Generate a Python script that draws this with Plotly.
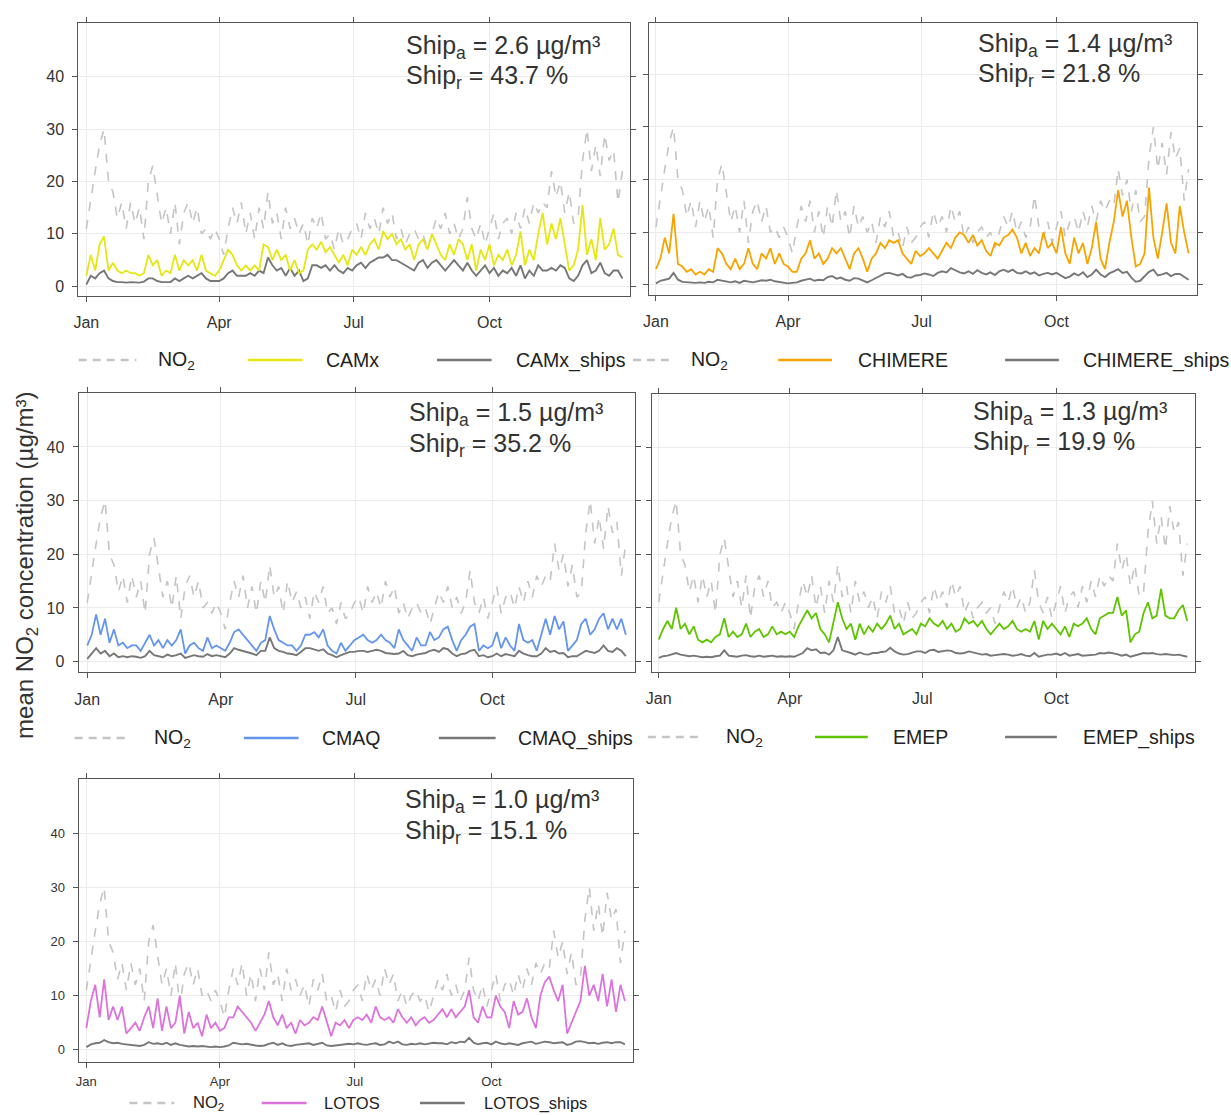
import pandas as pd
import plotly.graph_objects as go

# ---------------------------------------------------------------------------
# Data: 3-day mean NO2 (observed) and modelled totals / ship contributions
# ---------------------------------------------------------------------------
dates = pd.date_range("2015-01-01", periods=122, freq="3D")

no2 = [11, 17, 22, 27, 30, 20, 18, 13, 16, 11,
       16, 12, 15, 9, 20, 23, 17, 12, 15, 10,
       16, 8, 14, 16, 12, 15, 10, 11, 9, 11,
       9, 6, 11, 15, 12, 16, 10, 14, 9, 15,
       11, 18, 12, 14, 9, 15, 11, 13, 10, 12,
       8, 13, 11, 14, 9, 10, 7, 11, 8, 9,
       11, 12, 9, 14, 11, 13, 10, 15, 12, 14,
       9, 11, 8, 10, 11, 9, 10, 7, 10, 13,
       11, 14, 10, 12, 9, 11, 17, 11, 9, 12,
       8, 11, 14, 9, 12, 13, 10, 14, 11, 15,
       12, 16, 14, 16, 15, 22, 17, 20, 14, 18,
       12, 13, 24, 30, 22, 27, 21, 29, 24, 26,
       16, 22]

camx = [2, 6, 3, 8, 9.5, 3, 4.5, 3, 2.5, 3,
        2.5, 2.5, 2, 2.5, 6, 4, 5, 2, 3, 2.5,
        6, 3, 5, 4, 5, 3, 6, 3, 2.5, 2,
        3, 5, 7, 6, 4, 3, 4, 3, 4, 3,
        8, 7.5, 5, 7, 5, 6, 3, 5, 2.5, 3,
        7, 8, 7, 8.5, 6.5, 7.5, 6, 4.5, 6, 4,
        7, 6, 7.5, 6, 8, 9, 7, 10.5, 9, 10,
        8, 9, 7, 8, 5, 8, 9, 7, 10, 8,
        6, 5, 8, 6, 9, 8, 5, 8, 3, 7,
        5, 8, 4, 6, 5, 7, 4, 6, 10.5, 4,
        7, 5, 10, 14, 8, 12, 9, 13, 8, 3,
        4, 7, 15.5, 6, 9, 5, 13, 7, 8, 11,
        6, 5.5]
camx_ships = [0.3, 2, 1.5, 2.5, 3, 1.5, 1, 0.8, 0.8, 0.7,
              0.8, 0.8, 0.7, 0.9, 1.5, 1.5, 1, 0.8, 0.8, 0.8,
              1.5, 1, 1.5, 2, 1.5, 2, 2.5, 1.5, 1, 1,
              1, 1.5, 2.5, 3, 2, 2, 2, 2.5, 2, 3,
              2.5, 5.5, 4, 3, 3.5, 2, 3.5, 2, 3, 1,
              1.5, 4, 4, 3.5, 4, 3, 4, 3, 2.5, 3.5,
              3, 4, 4.5, 3.5, 4.5, 5, 5.5, 5.5, 6, 5,
              5, 4.5, 4, 3.5, 3, 4.5, 5, 3.5, 4.5, 5,
              4, 3, 4, 5, 4, 3, 4.5, 3, 2, 3,
              4, 2.5, 3.5, 2, 3, 2.5, 3.5, 2, 4, 1.5,
              3, 2, 4, 3, 3, 3.5, 3, 4, 3.5, 1.5,
              1, 2, 4, 5, 2.5, 3, 4.5, 2.5, 2, 3,
              3, 1.5]

chimere = [3, 5, 9, 6, 13.5, 4, 3.5, 2.5, 3, 2,
           2.5, 2, 3, 2.5, 7, 6, 4, 3, 5, 3,
           4, 7, 4, 3, 6, 5, 7, 4, 6, 4,
           3.5, 2.5, 2.5, 5, 6, 8.5, 5, 6, 4, 5,
           7, 6, 7, 5, 3, 6, 7, 5, 2.5, 5,
           6, 8, 7, 8.5, 8, 8.5, 6, 5, 4, 6.5,
           5.5, 6, 7, 6, 5, 6.5, 8, 7, 9, 10,
           9.5, 8, 9.5, 7.5, 8.5, 6.5, 5.5, 8, 7.5, 9,
           9.5, 10.5, 9, 6, 8, 5.5, 7, 6, 10, 7,
           8, 6, 11, 6, 4, 9, 6, 8, 4, 7,
           12, 5, 3, 8, 12, 18, 13, 16, 9, 3.5,
           4, 6, 18.5, 9, 5, 10, 15.5, 8, 6, 15,
           10, 6]
chimere_ships = [0.3, 0.8, 1, 1.2, 2.3, 1, 0.6, 0.5, 0.5, 0.4,
                 0.5, 0.4, 0.6, 0.5, 1, 0.8, 0.6, 0.5, 0.7, 0.4,
                 0.8, 0.6, 0.5, 0.7, 0.9, 0.8, 1, 0.7, 0.6, 0.4,
                 0.3, 0.4, 0.5, 0.8, 1, 1.2, 0.8, 1, 0.9, 1.5,
                 1.7, 1.2, 1.4, 1, 0.8, 1.3, 1.2, 0.8, 0.5, 0.9,
                 1.3, 1.8, 2.2, 2.3, 2, 1.8, 2.1, 1.5, 1.4, 1.8,
                 1.9, 2.2, 2, 1.7, 2.3, 2.6, 2.4, 3.2, 2.8, 2.4,
                 2.2, 2.6, 2.1, 2.8, 2.3, 2, 2.4, 1.9, 2.6, 2.9,
                 2.5, 2.9, 2.3, 2.2, 2.6, 2.1, 2.4, 1.8, 2.1, 2.3,
                 2, 2.3, 1.8, 1.3, 1.6, 2.2, 1.8, 2.4, 1.5, 2,
                 2.9, 2, 1.5, 2.2, 2.6, 3, 2.3, 2.5, 1.4, 0.6,
                 0.8, 1.6, 2.5, 2.9, 1.8, 2, 2.3, 1.7, 2.1, 2.1,
                 1.6, 1]

cmaq = [3, 5, 8.8, 5, 8, 3.5, 6, 3, 3.5, 2.5,
        3, 3, 2, 3.5, 5, 3, 4, 2.5, 4, 3,
        4, 6, 1.5, 3, 3.5, 2.5, 2, 4.5, 2.5, 3,
        2.5, 2, 3.5, 5.5, 6, 5, 4, 3, 2, 3.5,
        4, 8.5, 6, 4, 3.5, 3, 3, 2, 3, 5,
        5, 5.5, 4.5, 6, 3, 2, 1.5, 3.5, 2, 3,
        4, 4.5, 5, 4, 3.5, 4, 5, 4, 3.5, 2.5,
        6, 4, 3, 2, 4.5, 3, 3, 5.5, 4, 4.5,
        6, 6.5, 4, 2, 4, 5, 6.5, 7, 2, 3,
        2.5, 3, 5.5, 2.5, 4.5, 3, 2, 7, 4, 3.5,
        4, 2, 5, 8, 5, 8.5, 6, 7.5, 2, 3,
        4, 7, 8, 5, 6, 8, 9, 6, 8, 6,
        8, 5]
cmaq_ships = [0.5, 1.5, 2.5, 1.5, 2, 1, 1.5, 0.8, 1, 0.8,
              1, 0.9, 0.7, 1, 2, 1.2, 1, 0.8, 1.3, 1,
              1.2, 1.5, 0.7, 1, 1.2, 1, 0.9, 1.4, 1, 1.2,
              1, 0.8, 1.5, 2.5, 2.2, 2, 1.8, 1.5, 1.2, 2,
              2, 4.5, 2.5, 2, 1.8, 1.5, 1.4, 1.2, 1.8, 2.5,
              2.5, 2.2, 2, 2.3, 1.5, 1.2, 0.8, 1.2, 1.5, 1.8,
              1.8, 2, 2, 1.8, 2, 2.2, 2, 1.6, 1.5, 1.4,
              1.5, 2, 1.2, 1, 1.3, 1.5, 1.6, 2, 2.2, 1.8,
              2.5, 2.3, 1.5, 1, 1.4, 1.5, 2, 2.2, 1, 1.2,
              0.8, 1, 1.5, 1, 1.4, 1.2, 1, 2, 1.5, 1.2,
              1, 1, 1.5, 2.5, 1.8, 2, 1.5, 1.6, 0.8, 1,
              1, 1.5, 2, 1.8, 1.6, 2, 3, 2, 1.8, 2.5,
              2, 1]

emep = [4, 6, 7.5, 6, 10, 6, 7, 5, 6.5, 4,
        3.5, 4, 3.5, 4.5, 5, 8, 4.5, 5.5, 4.5, 5,
        7, 4.5, 5.5, 6, 4.5, 5, 6.5, 5, 5.5, 5,
        5.5, 4.5, 6.5, 8, 9.5, 8, 9, 6, 5, 3.5,
        7, 11, 8, 6, 7, 4, 7, 5, 6.5, 5.5,
        7, 6, 7, 8.5, 6, 7, 5, 5.5, 6, 5,
        7, 6.5, 8, 7, 6.5, 7.5, 6, 7, 5.5, 6,
        8, 7, 7.5, 6.5, 7.5, 6, 5, 6, 7, 6,
        6.5, 7.5, 6, 5.5, 6, 5.5, 7.5, 4, 7.5, 6,
        7, 6, 5, 6.5, 4.5, 7, 6.5, 7, 8, 6,
        5, 8, 8.5, 9, 9, 12, 8.5, 9.5, 3.5, 5,
        5.5, 9, 11, 8, 8.5, 13.5, 8.5, 8, 8, 9.5,
        10.5, 7.5]
emep_ships = [0.6, 0.9, 1, 1.2, 1.5, 1.2, 1, 0.9, 1, 0.8,
              0.7, 0.8, 0.7, 0.9, 1, 2, 1, 0.9, 0.8, 1,
              1.1, 0.9, 0.8, 1, 0.8, 0.9, 1, 0.8, 0.9, 0.8,
              0.9, 0.8, 1.2, 1.5, 2.4, 2, 2.2, 1.5, 1.6, 1.2,
              2, 4.5, 2, 1.8, 1.5, 1.2, 1.6, 1.3, 1.2, 1.5,
              1.5, 1.7, 1.8, 2.5, 1.8, 1.4, 1.2, 1.3, 1.5, 1.8,
              1.8, 1.5, 2, 2.1, 1.7, 1.8, 2, 1.9, 1.5, 1.4,
              1.5, 1.8, 1.6, 1.5, 1.2, 1.3, 1, 1.1, 1.2, 1.3,
              1.2, 1, 1.1, 1.3, 1, 0.9, 1.5, 0.8, 1, 1.2,
              1.2, 1.4, 1.1, 1.5, 1, 1.2, 1.3, 1, 1.1, 1.2,
              1.2, 1.5, 1.4, 1.6, 1.5, 1.3, 1, 1.2, 0.8, 1,
              1.3, 1.5, 1.4, 1.5, 1.3, 1.2, 1.3, 1.2, 1.1, 1.2,
              1, 0.8]

lotos = [4, 9, 12, 6, 13, 5.5, 8, 5.5, 8, 3,
         4, 5, 3.5, 6, 8, 4, 9.5, 3.5, 8, 4,
         5, 10, 3, 7, 4, 5, 2.5, 6.5, 4, 5,
         3.5, 4, 6, 6, 8, 7, 6, 5, 3.5, 5,
         6.5, 9, 6, 4.5, 6.5, 4, 5, 3, 5.5, 4.5,
         5, 6, 5.5, 8, 5, 2.5, 5, 4.5, 5.5, 4,
         5.5, 6, 5.5, 6.5, 5, 8, 6, 5.5, 6, 5,
         7.5, 6, 5, 6, 4.5, 5.5, 6, 5, 5.5, 6.5,
         7.5, 6, 7.5, 6, 7, 8, 11, 6, 5, 8,
         6, 6, 10, 8, 7, 4, 9, 6.5, 7, 9.5,
         6, 4, 10, 12.5, 13.5, 11, 9, 12, 3, 5,
         7, 9, 15.5, 10, 12, 9, 14, 8, 13, 7,
         12, 9]
lotos_ships = [0.5, 1, 1.2, 1.3, 1.8, 1.4, 1.2, 1.3, 1.1, 1,
               1, 0.8, 0.7, 0.9, 1.4, 1.1, 1.2, 1, 1.3, 0.9,
               1.2, 0.9, 0.8, 0.6, 0.7, 0.6, 0.7, 0.6, 0.5, 0.6,
               0.5, 0.6, 0.8, 1.3, 1.2, 1, 1.1, 0.9, 0.8, 0.7,
               0.8, 1.1, 1.3, 0.9, 1.2, 0.8, 0.7, 0.9, 1, 1.2,
               1.2, 0.9, 1.1, 1.3, 0.8, 0.7, 0.8, 0.9, 1, 1.1,
               1, 1.2, 1, 0.9, 1.1, 1.2, 0.9, 1, 1.5, 1.2,
               1.5, 1, 0.9, 1.1, 1, 1.2, 1, 1.1, 1.3, 1.2,
               1.2, 1, 1.4, 1.2, 1.5, 1.4, 2.2, 1.3, 1, 1.2,
               1.3, 1, 1.5, 1.2, 1, 1.2, 1, 0.9, 1.2, 1.3,
               1.5, 1.1, 1.3, 1.5, 1.4, 1.2, 1.3, 1.4, 0.9, 1.1,
               1.5, 1.6, 1.4, 1.2, 1.3, 1.1, 1.3, 1.4, 1.2, 1.4,
               1.4, 1]

model_names = ["CAMx", "CHIMERE", "CMAQ", "EMEP", "LOTOS"]
model_series = [camx, chimere, cmaq, emep, lotos]
ship_series = [camx_ships, chimere_ships, cmaq_ships, emep_ships, lotos_ships]
ship_abs = ["2.6", "1.4", "1.5", "1.3", "1.0"]      # µg/m³
ship_rel = ["43.7", "21.8", "35.2", "19.9", "15.1"]  # %

y_ticks = [0, 10, 20, 30, 40]
x_tick_dates = ["2015-01-01", "2015-04-01", "2015-07-01", "2015-10-01"]
x_tick_text = ["Jan", "Apr", "Jul", "Oct"]

# ---------------------------------------------------------------------------
# Styling / layout
# ---------------------------------------------------------------------------
W, H = 1231, 1115
model_colors = ["#e6e615", "#f7a400", "#6495ed", "#5ec400", "#dc73dc"]
SHIP_COLOR = "#777777"
OBS_COLOR = "#c4c4c4"
FONT = "Liberation Sans, Arial, sans-serif"

# frame in pixels (left, right, top, bottom), x-range in days, y-range,
# tick-label font size and x tick-label standoff
frames = [
    dict(box=(72.7, 627.0, 23.3, 295.7), xr=(-5.4, 368.1), yr=(-1.8, 50.2), ylab=True, tf=16, so=7),
    dict(box=(646.5, 1196.8, 22.7, 295.0), xr=(-4.5, 368.7), yr=(-1.9, 49.8), ylab=False, tf=16, so=7),
    dict(box=(73.0, 631.8, 393.3, 672.3), xr=(-5.8, 369.0), yr=(-2.0, 50.0), ylab=True, tf=16, so=7),
    dict(box=(649.2, 1194.8, 394.0, 671.7), xr=(-4.6, 368.3), yr=(-2.0, 50.0), ylab=False, tf=16, so=7),
    dict(box=(73.0, 630.0, 779.0, 1061.7), xr=(-5.2, 368.4), yr=(-2.2, 50.0), ylab=True, tf=13, so=3),
]
# stat text (left x, first line y, second line y)
stat_pos = [(400, 47, 77), (975, 45, 75), (403, 414, 445), (970, 413, 443), (399, 801, 832)]
# legend rows: y, font size, [(swatch x0, x1, text x) for NO2, model, ships]
legend_rows = [
    (360, 19.5, [(73, 131, 151), (243, 298, 320), (433, 488, 510)]),
    (360, 19.5, [(630, 666, 686), (776, 830, 854), (1004, 1058, 1080)]),
    (738, 19.5, [(69, 124, 147), (239, 294, 316), (435, 492, 513)]),
    (737, 19.5, [(645, 700, 722), (813, 866, 889), (1004, 1056, 1080)]),
    (1103, 16.5, [(124, 169, 186), (257, 302, 318), (416, 461, 478)]),
]


def px_x(x):
    return x / W


def px_y(y):
    return 1 - y / H


start = pd.Timestamp("2015-01-01")
fig = go.Figure()
layout = dict(width=W, height=H, margin=dict(l=0, r=0, t=0, b=0),
              paper_bgcolor="white", plot_bgcolor="white", showlegend=False)
shapes, annotations = [], []

for i in range(5):
    k = "" if i == 0 else str(i + 1)
    fr = frames[i]
    l, r, t, b = fr["box"]
    xa, ya = "x" + k, "y" + k

    fig.add_trace(go.Scatter(x=dates, y=no2, mode="lines", xaxis=xa, yaxis=ya,
                             line=dict(color=OBS_COLOR, width=1.6, dash="dash"), name="NO2"))
    fig.add_trace(go.Scatter(x=dates, y=ship_series[i], mode="lines", xaxis=xa, yaxis=ya,
                             line=dict(color=SHIP_COLOR, width=1.9), name=model_names[i] + "_ships"))
    fig.add_trace(go.Scatter(x=dates, y=model_series[i], mode="lines", xaxis=xa, yaxis=ya,
                             line=dict(color=model_colors[i], width=1.8), name=model_names[i]))

    common = dict(showline=True, linecolor="#555555", linewidth=1.2, mirror="allticks",
                  ticks="outside", ticklen=5, tickwidth=1, tickcolor="#555555",
                  showgrid=True, gridcolor="#ebebeb", gridwidth=1, zeroline=False,
                  tickfont=dict(family=FONT, size=fr["tf"], color="#333333"))
    layout["xaxis" + k] = dict(
        common, domain=[px_x(l), px_x(r)], anchor=ya, type="date",
        range=[start + pd.Timedelta(days=fr["xr"][0]), start + pd.Timedelta(days=fr["xr"][1])],
        tickvals=x_tick_dates, ticktext=x_tick_text, ticklabelstandoff=fr["so"])
    layout["yaxis" + k] = dict(
        common, domain=[px_y(b), px_y(t)], anchor=xa, range=list(fr["yr"]),
        tickvals=y_ticks, showticklabels=fr["ylab"], ticklabelstandoff=5)

    # ship contribution statistics
    sx, sy1, sy2 = stat_pos[i]
    for txt, yy in ((f"Ship<sub>a</sub> = {ship_abs[i]} µg/m³", sy1),
                    (f"Ship<sub>r</sub> = {ship_rel[i]} %", sy2)):
        annotations.append(dict(text=txt, x=px_x(sx), y=px_y(yy), xref="paper", yref="paper",
                                xanchor="left", yanchor="middle", showarrow=False,
                                font=dict(family=FONT, size=25, color="#333333")))

    # legend row
    ly, lf, items = legend_rows[i]
    labels = ["NO<sub>2</sub>", model_names[i], model_names[i] + "_ships"]
    styles = [(OBS_COLOR, "8px,6px"), (model_colors[i], "solid"), (SHIP_COLOR, "solid")]
    for (x0, x1, tx), lab, (col, dsh) in zip(items, labels, styles):
        shapes.append(dict(type="line", xref="paper", yref="paper",
                           x0=px_x(x0), x1=px_x(x1), y0=px_y(ly), y1=px_y(ly),
                           line=dict(color=col, width=2.4, dash=dsh)))
        annotations.append(dict(text=lab, x=px_x(tx), y=px_y(ly), xref="paper", yref="paper",
                                xanchor="left", yanchor="middle", showarrow=False,
                                font=dict(family=FONT, size=lf, color="#222222")))

annotations.append(dict(text="mean NO<sub>2</sub> concentration (µg/m³)", textangle=-90,
                        x=px_x(20), y=px_y(565), xref="paper", yref="paper",
                        xanchor="center", yanchor="middle", showarrow=False,
                        font=dict(family=FONT, size=24, color="#333333")))

layout["shapes"] = shapes
layout["annotations"] = annotations
fig.update_layout(**layout)
fig.write_html("out.html")
